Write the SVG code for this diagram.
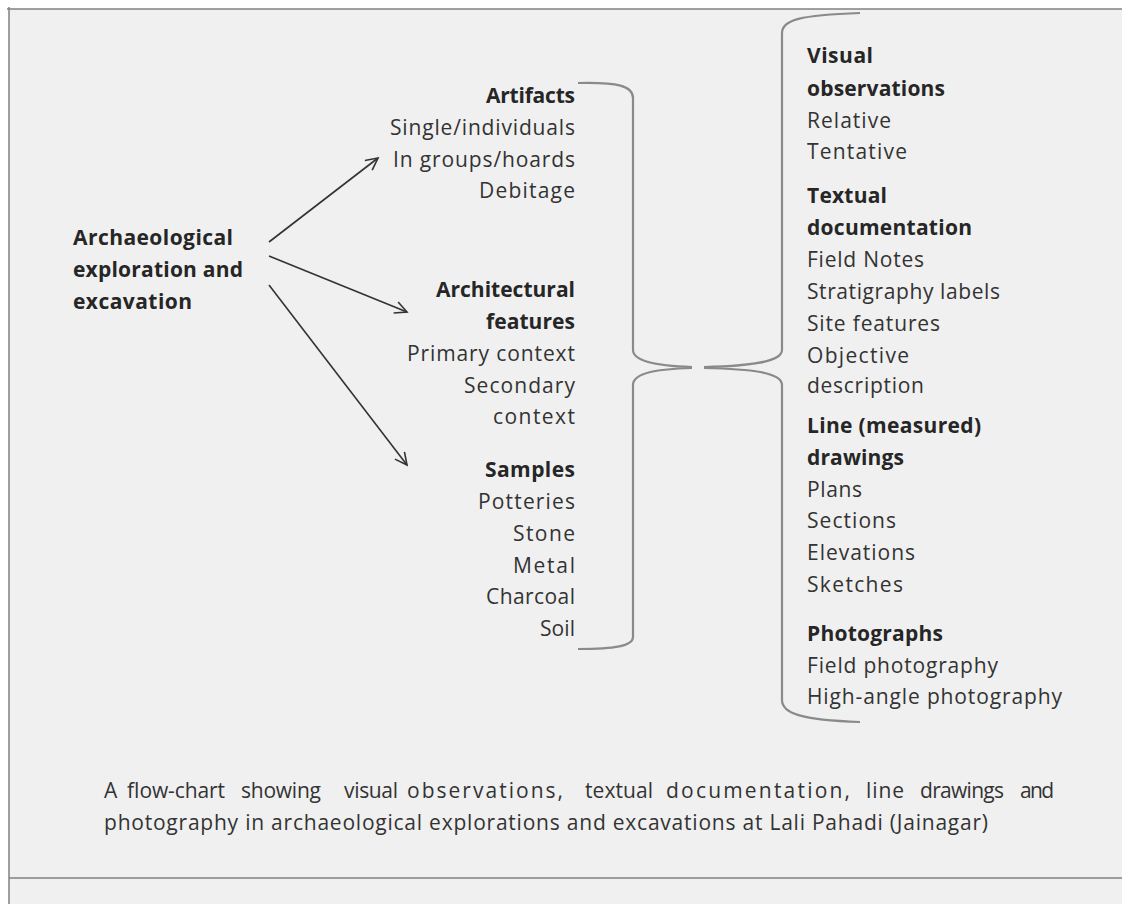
<svg xmlns="http://www.w3.org/2000/svg" width="1122" height="904" viewBox="0 0 1122 904">
<style>
text { font-family: "Open Sans", "Liberation Sans", sans-serif; font-size: 21px; fill: #333333; }
.b { font-weight: bold; fill: #262626; }
.cap { font-size: 21px; }
.arrow { fill: none; stroke: #333333; stroke-width: 1.6; }
.brace { fill: none; stroke: #8a8a8a; stroke-width: 2.2; }
.frame { fill: none; stroke: #808080; stroke-width: 1.5; }
</style>
<defs>
<marker id="ah" markerUnits="userSpaceOnUse" markerWidth="20" markerHeight="20" refX="13" refY="7" orient="auto">
<path d="M1,1 L13,7 L1,13" fill="none" stroke="#333333" stroke-width="1.6"/>
</marker>
</defs>
<rect x="0" y="0" width="1122" height="904" fill="#ffffff"/>
<rect x="9" y="9" width="1113" height="895" fill="#f0f0f0"/>
<g id="frame">
<line class="frame" x1="7" y1="9" x2="1122" y2="9"/>
<line class="frame" x1="9" y1="7" x2="9" y2="904"/>
<line class="frame" x1="9" y1="878" x2="1122" y2="878"/>
</g>
<g id="connectors">
<line class="arrow" x1="269" y1="242" x2="378" y2="158" marker-end="url(#ah)"/>
<line class="arrow" x1="269" y1="256" x2="407" y2="312" marker-end="url(#ah)"/>
<line class="arrow" x1="269" y1="285" x2="407" y2="465" marker-end="url(#ah)"/>
<path class="brace" d="M578,83 C618,82 633,86 633,98 L633,350 C633,362 660,366 692,367"/>
<path class="brace" d="M692,368 C660,369 633,372 633,385 L633,637 C633,646 615,649 578,649"/>
<path class="brace" d="M860,13 C800,15 782,20 782,33 L782,350 C782,362 750,366 704,367"/>
<path class="brace" d="M704,368 C750,369 782,372 782,385 L782,700 C782,713 800,720 860,722"/>
</g>
<g id="source">
<text class="b" x="73" y="245" textLength="160" lengthAdjust="spacing">Archaeological</text>
<text class="b" x="73" y="277" textLength="170" lengthAdjust="spacing">exploration and</text>
<text class="b" x="73" y="309" textLength="119" lengthAdjust="spacing">excavation</text>
</g>
<g id="artifacts">
<text class="b" x="486" y="103" textLength="89" lengthAdjust="spacing">Artifacts</text>
<text x="390" y="135" textLength="185" lengthAdjust="spacing">Single/individuals</text>
<text x="393" y="167" textLength="182" lengthAdjust="spacing">In groups/hoards</text>
<text x="479" y="198" textLength="96" lengthAdjust="spacing">Debitage</text>
</g>
<g id="architectural">
<text class="b" x="436" y="297" textLength="139" lengthAdjust="spacing">Architectural</text>
<text class="b" x="486" y="329" textLength="89" lengthAdjust="spacing">features</text>
<text x="407" y="361" textLength="168" lengthAdjust="spacing">Primary context</text>
<text x="464" y="393" textLength="111" lengthAdjust="spacing">Secondary</text>
<text x="493" y="424" textLength="82" lengthAdjust="spacing">context</text>
</g>
<g id="samples">
<text class="b" x="485" y="477" textLength="90" lengthAdjust="spacing">Samples</text>
<text x="478" y="509" textLength="97" lengthAdjust="spacing">Potteries</text>
<text x="513" y="541" textLength="62" lengthAdjust="spacing">Stone</text>
<text x="513" y="573" textLength="62" lengthAdjust="spacing">Metal</text>
<text x="486" y="604" textLength="89" lengthAdjust="spacing">Charcoal</text>
<text x="540" y="636" textLength="35" lengthAdjust="spacing">Soil</text>
</g>
<g id="visual">
<text class="b" x="807" y="63" textLength="66" lengthAdjust="spacing">Visual</text>
<text class="b" x="807" y="96" textLength="138" lengthAdjust="spacing">observations</text>
<text x="807" y="128" textLength="84" lengthAdjust="spacing">Relative</text>
<text x="807" y="159" textLength="100" lengthAdjust="spacing">Tentative</text>
</g>
<g id="textual">
<text class="b" x="807" y="203" textLength="80" lengthAdjust="spacing">Textual</text>
<text class="b" x="807" y="235" textLength="165" lengthAdjust="spacing">documentation</text>
<text x="807" y="267" textLength="117" lengthAdjust="spacing">Field Notes</text>
<text x="807" y="299" textLength="193" lengthAdjust="spacing">Stratigraphy labels</text>
<text x="807" y="331" textLength="133" lengthAdjust="spacing">Site features</text>
<text x="807" y="363" textLength="102" lengthAdjust="spacing">Objective</text>
<text x="807" y="393" textLength="117" lengthAdjust="spacing">description</text>
</g>
<g id="line-drawings">
<text class="b" x="807" y="433" textLength="174" lengthAdjust="spacing">Line (measured)</text>
<text class="b" x="807" y="465" textLength="97" lengthAdjust="spacing">drawings</text>
<text x="807" y="497" textLength="55" lengthAdjust="spacing">Plans</text>
<text x="807" y="528" textLength="89" lengthAdjust="spacing">Sections</text>
<text x="807" y="560" textLength="108" lengthAdjust="spacing">Elevations</text>
<text x="807" y="592" textLength="96" lengthAdjust="spacing">Sketches</text>
</g>
<g id="photographs">
<text class="b" x="807" y="641" textLength="136" lengthAdjust="spacing">Photographs</text>
<text x="807" y="673" textLength="191" lengthAdjust="spacing">Field photography</text>
<text x="807" y="704" textLength="255" lengthAdjust="spacing">High-angle photography</text>
</g>
<g id="caption">
<text class="cap" y="798"><tspan x="104">A</tspan><tspan x="127" textLength="98" lengthAdjust="spacing">flow-chart</tspan><tspan x="241" textLength="80" lengthAdjust="spacing">showing</tspan><tspan x="344" textLength="54" lengthAdjust="spacing">visual</tspan><tspan x="407" textLength="156" lengthAdjust="spacing">observations,</tspan><tspan x="585" textLength="68" lengthAdjust="spacing">textual</tspan><tspan x="666" textLength="184" lengthAdjust="spacing">documentation,</tspan><tspan x="866" textLength="38" lengthAdjust="spacing">line</tspan><tspan x="920" textLength="84" lengthAdjust="spacing">drawings</tspan><tspan x="1020" textLength="34" lengthAdjust="spacing">and</tspan></text>
<text class="cap" x="104" y="830" textLength="884" lengthAdjust="spacing">photography in archaeological explorations and excavations at Lali Pahadi  (Jainagar)</text>
</g>
</svg>
